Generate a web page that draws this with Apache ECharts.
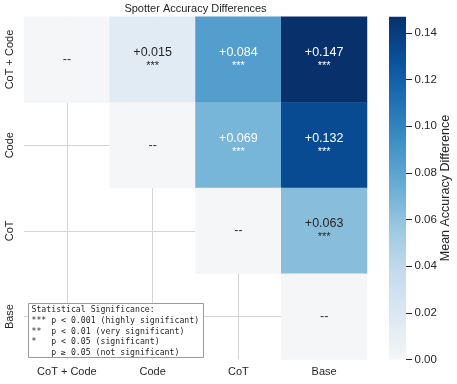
<!DOCTYPE html>
<html><head><meta charset="utf-8">
<script src="https://cdn.jsdelivr.net/npm/echarts@6/dist/echarts.min.js"></script>
<style>html,body{margin:0;padding:0;background:#fff}#c{width:457px;height:384px}</style>
</head><body><div id="c"></div>
<script>
// ---- data ----
const methods = ['CoT + Code', 'Code', 'CoT', 'Base'];
// mean accuracy difference (row method minus column method); null = masked cell
const diffCoTCode = [0, 0.015, 0.084, 0.147];
const diffCode    = [null, 0, 0.069, 0.132];
const diffCoT     = [null, null, 0, 0.063];
const diffBase    = [null, null, null, 0];
const sigCoTCode = ['', '***', '***', '***'];
const sigCode    = ['', '', '***', '***'];
const sigCoT     = ['', '', '', '***'];
const sigBase    = ['', '', '', ''];
const colorbarTicks = [0, 0.02, 0.04, 0.06, 0.08, 0.10, 0.12, 0.14];
const colorMin = 0;
const colorMax = 0.147;
const colorbarTitle = 'Mean Accuracy Difference';
const sigLegendTitle = 'Statistical Significance:';
const sigLegend = [
  '*** p < 0.001 (highly significant)',
  '**  p < 0.01 (very significant)',
  '*   p < 0.05 (significant)',
  '    p \u2265 0.05 (not significant)'
];

// ---- build ----
const FONT = '"Liberation Sans", Arial, Helvetica, sans-serif';
const TXT = '#262626';
const blues = ['#f4f6f7','#dde8f3','#c6dbef','#9ecae1','#6baed6','#4292c6','#2171b5','#08519c','#08306b'];
const darkTextFrom = 0.066;
const rows = [diffCoTCode, diffCode, diffCoT, diffBase];
const sigs = [sigCoTCode, sigCode, sigCoT, sigBase];
const cells = [];
rows.forEach((row, r) => row.forEach((v, c) => {
  if (v === null) return;
  cells.push({
    value: [c, r, v],
    sig: sigs[r][c],
    label: { color: v === 0 ? '#333333' : (v > darkTextFrom ? '#ffffff' : TXT) }
  });
}));

const G = { left: 24, top: 16.7, width: 343, height: 342.7 };
const CB = { x: 389, w: 17 };

const chart = echarts.init(document.getElementById('c'), null, { renderer: 'canvas' });
chart.setOption({
  animation: false,
  backgroundColor: '#ffffff',
  textStyle: { fontFamily: FONT },
  title: {
    text: 'Spotter Accuracy Differences',
    left: 195.5, top: 3, padding: 0, textAlign: 'center',
    textStyle: { fontSize: 11, fontWeight: 'normal', color: TXT, fontFamily: FONT }
  },
  grid: { left: G.left, top: G.top, width: G.width, height: G.height, outerBoundsMode: 'none', containLabel: false },
  xAxis: {
    type: 'category', data: methods,
    axisLine: { show: false }, axisTick: { show: false }, splitLine: { show: false },
    axisLabel: { fontSize: 11, color: TXT, margin: 7.5, fontFamily: FONT }
  },
  yAxis: [
    { type: 'category', data: methods, inverse: true,
      axisLine: { show: false }, axisTick: { show: false }, splitLine: { show: false },
      axisLabel: { fontSize: 11, color: TXT, margin: 8.5, rotate: 90, fontFamily: FONT } },
    { type: 'value', position: 'right', offset: CB.x + CB.w - (G.left + G.width),
      min: colorMin, max: colorMax,
      axisLine: { show: false }, splitLine: { show: false },
      axisTick: { show: true, length: 6, lineStyle: { color: TXT, width: 1 }, customValues: colorbarTicks },
      axisLabel: { customValues: colorbarTicks, formatter: v => v.toFixed(2), fontSize: 11.5, color: TXT, margin: 8.5, fontFamily: FONT } }
  ],
  visualMap: {
    show: false,
    type: 'continuous', min: colorMin, max: colorMax, seriesIndex: 1,
    inRange: { color: blues }
  },
  series: [
    { type: 'line', yAxisIndex: 0, data: [], z: 1, silent: true,
      markLine: {
        z: 1, silent: true, symbol: ['none', 'none'], label: { show: false },
        lineStyle: { color: '#d4d4d4', width: 1, type: 'solid' },
        data: methods.slice(0, 3).map(m => ({ xAxis: m })).concat(methods.slice(1).map(m => ({ yAxis: m })))
      } },
    { type: 'heatmap', yAxisIndex: 0, z: 10, data: cells,
      itemStyle: { borderWidth: 0 },
      emphasis: { disabled: true },
      label: {
        show: true, fontFamily: FONT,
        formatter: p => {
          const v = p.value[2];
          if (v === 0) return '{d|--}';
          return '{v|+' + v.toFixed(3) + '}\n{s|' + p.data.sig + '}';
        },
        rich: {
          v: { fontSize: 12.5, lineHeight: 13, fontFamily: FONT },
          s: { fontSize: 11, lineHeight: 14, fontFamily: FONT },
          d: { fontSize: 12.5, fontFamily: FONT }
        }
      } }
  ],
  graphic: [
    { type: 'rect', z: 0, silent: true,
      shape: { x: CB.x, y: G.top, width: CB.w, height: G.height },
      style: { fill: new echarts.graphic.LinearGradient(0, 1, 0, 0,
        blues.map((c, i) => ({ offset: i / (blues.length - 1), color: c }))) } },
    { type: 'text', z: 50, silent: true, x: 446, y: G.top + G.height / 2, rotation: Math.PI / 2,
      style: { text: colorbarTitle, fontSize: 12.5, fontFamily: FONT, fill: TXT,
               align: 'center', verticalAlign: 'middle' } },
    { type: 'rect', z: 100, silent: true,
      shape: { x: 28.5, y: 303.5, width: 175, height: 54 },
      style: { fill: 'rgba(255,255,255,0.9)', stroke: '#9a9a9a', lineWidth: 1 } },
    { type: 'text', z: 101, silent: true, x: 31.5, y: 305,
      style: { text: [sigLegendTitle].concat(sigLegend).join('\n'),
               fontSize: 8.2, fontFamily: '"DejaVu Sans Mono", monospace', fill: TXT, lineHeight: 10.6 } }
  ]
});
</script></body></html>
